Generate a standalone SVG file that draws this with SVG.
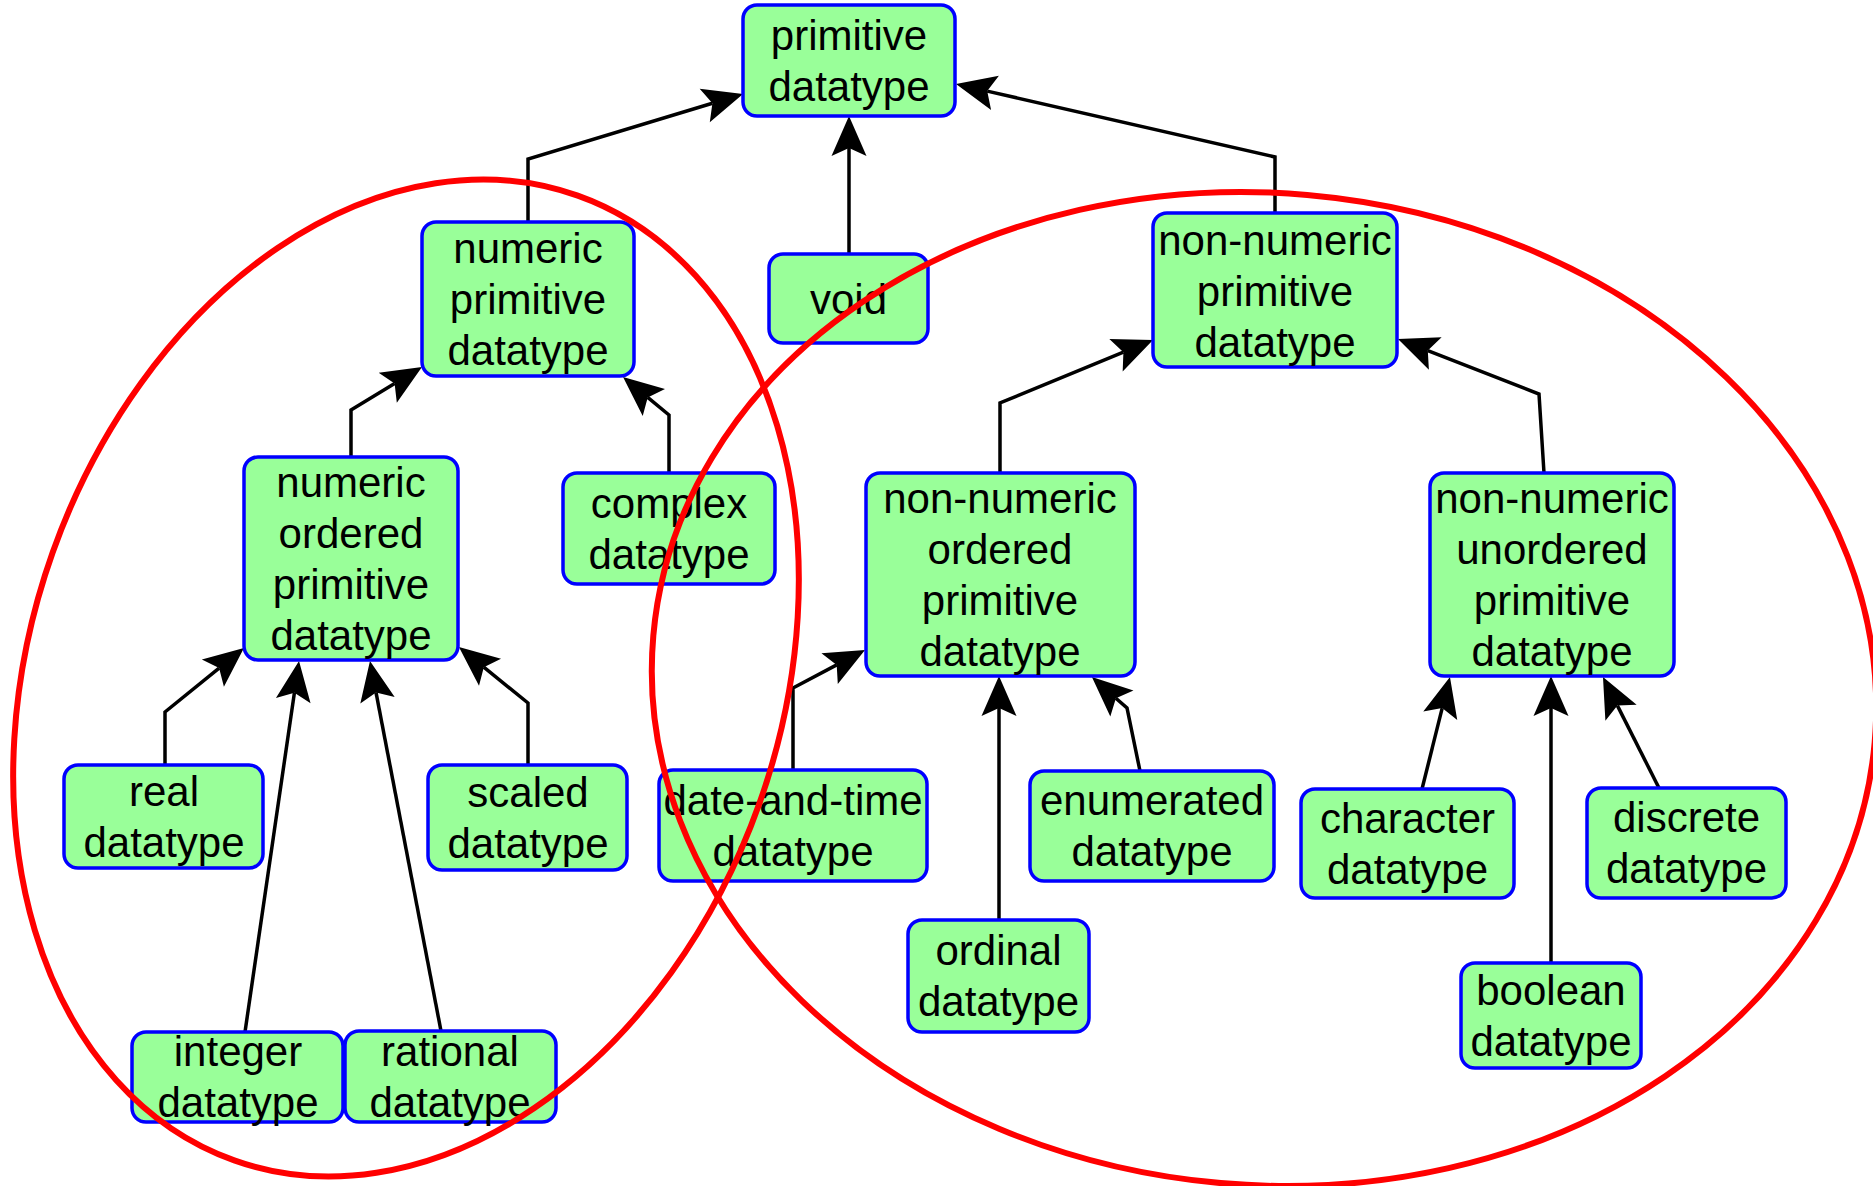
<svg xmlns="http://www.w3.org/2000/svg" width="1873" height="1186" viewBox="0 0 1873 1186">
  <style>
    .box { fill: #99ff99; stroke: #0000ff; stroke-width: 3.5; }
    .lbl { font-family: "Liberation Sans", Arial, sans-serif; font-size: 42px; fill: #000; text-anchor: middle; }
    .edge { fill: none; stroke: #000; stroke-width: 3.5; marker-end: url(#arrow); }
    .ring { fill: none; stroke: #ff0000; stroke-width: 6; }
  </style>
  <defs>
    <!-- notched arrowhead; reference point is the notch, tip lies 32px ahead -->
    <marker id="arrow" markerUnits="userSpaceOnUse" viewBox="-10 -20 44 40" refX="0" refY="0" markerWidth="44" markerHeight="40" orient="auto" overflow="visible">
      <path d="M32,0 L-8,-17.5 L0,0 L-8,17.5 Z" fill="#000"/>
    </marker>
  </defs>
  <rect width="1873" height="1186" fill="#ffffff"/>

  <g id="connectors">
    <path class="edge" d="M528,222 V159 L712.4,103.3"/>
    <path class="edge" d="M849,254 V148"/>
    <path class="edge" d="M1275,213 V157 L987.2,91.1"/>
    <path class="edge" d="M351,457 V410 L394.6,383.6"/>
    <path class="edge" d="M669,473 V415 L647.7,397.4"/>
    <path class="edge" d="M165,765 V712 L219.1,668.1"/>
    <path class="edge" d="M245,1032 L294.4,692.7"/>
    <path class="edge" d="M441,1031 L376,692.4"/>
    <path class="edge" d="M528,765 V703 L483.8,667.2"/>
    <path class="edge" d="M1000,473 V403 L1123.4,352.2"/>
    <path class="edge" d="M1544,473 L1539,394 L1427.8,350.6"/>
    <path class="edge" d="M793,770 V688 L836.7,664.9"/>
    <path class="edge" d="M999,920 V708"/>
    <path class="edge" d="M1140,771 L1127,708 L1115.9,698.2"/>
    <path class="edge" d="M1422,789 L1442.2,708.1"/>
    <path class="edge" d="M1551,963 V708"/>
    <path class="edge" d="M1659,788 L1617.4,705.6"/>
  </g>

  <g id="primitive">
    <rect class="box" x="743" y="5" width="212" height="111" rx="14"/>
    <text class="lbl" x="849" y="50">primitive</text>
    <text class="lbl" x="849" y="101">datatype</text>
  </g>
  <g id="void">
    <rect class="box" x="769" y="254" width="159" height="89" rx="14"/>
    <text class="lbl" x="848.5" y="313.5">void</text>
  </g>
  <g id="numeric-primitive">
    <rect class="box" x="422" y="222" width="212" height="154" rx="14"/>
    <text class="lbl" x="528" y="263">numeric</text>
    <text class="lbl" x="528" y="314">primitive</text>
    <text class="lbl" x="528" y="365">datatype</text>
  </g>
  <g id="complex">
    <rect class="box" x="563" y="473" width="212" height="111" rx="14"/>
    <text class="lbl" x="669" y="518">complex</text>
    <text class="lbl" x="669" y="569">datatype</text>
  </g>
  <g id="numeric-ordered">
    <rect class="box" x="244" y="457" width="214" height="203" rx="14"/>
    <text class="lbl" x="351" y="497">numeric</text>
    <text class="lbl" x="351" y="548">ordered</text>
    <text class="lbl" x="351" y="599">primitive</text>
    <text class="lbl" x="351" y="650">datatype</text>
  </g>
  <g id="real">
    <rect class="box" x="64" y="765" width="199" height="103" rx="14"/>
    <text class="lbl" x="164" y="806">real</text>
    <text class="lbl" x="164" y="857">datatype</text>
  </g>
  <g id="scaled">
    <rect class="box" x="428" y="765" width="199" height="105" rx="14"/>
    <text class="lbl" x="528" y="807">scaled</text>
    <text class="lbl" x="528" y="858">datatype</text>
  </g>
  <g id="integer">
    <rect class="box" x="132" y="1032" width="211" height="90" rx="14"/>
    <text class="lbl" x="238" y="1066">integer</text>
    <text class="lbl" x="238" y="1117">datatype</text>
  </g>
  <g id="rational">
    <rect class="box" x="345" y="1031" width="211" height="91" rx="14"/>
    <text class="lbl" x="450" y="1066">rational</text>
    <text class="lbl" x="450" y="1117">datatype</text>
  </g>
  <g id="non-numeric-primitive">
    <rect class="box" x="1153" y="213" width="244" height="154" rx="14"/>
    <text class="lbl" x="1275" y="255">non-numeric</text>
    <text class="lbl" x="1275" y="306">primitive</text>
    <text class="lbl" x="1275" y="357">datatype</text>
  </g>
  <g id="non-numeric-ordered">
    <rect class="box" x="866" y="473" width="269" height="203" rx="14"/>
    <text class="lbl" x="1000" y="513">non-numeric</text>
    <text class="lbl" x="1000" y="564">ordered</text>
    <text class="lbl" x="1000" y="615">primitive</text>
    <text class="lbl" x="1000" y="666">datatype</text>
  </g>
  <g id="non-numeric-unordered">
    <rect class="box" x="1430" y="473" width="244" height="203" rx="14"/>
    <text class="lbl" x="1552" y="513">non-numeric</text>
    <text class="lbl" x="1552" y="564">unordered</text>
    <text class="lbl" x="1552" y="615">primitive</text>
    <text class="lbl" x="1552" y="666">datatype</text>
  </g>
  <g id="date-and-time">
    <rect class="box" x="659" y="770" width="268" height="111" rx="14"/>
    <text class="lbl" x="793" y="815">date-and-time</text>
    <text class="lbl" x="793" y="866">datatype</text>
  </g>
  <g id="enumerated">
    <rect class="box" x="1030" y="771" width="244" height="110" rx="14"/>
    <text class="lbl" x="1152" y="815">enumerated</text>
    <text class="lbl" x="1152" y="866">datatype</text>
  </g>
  <g id="ordinal">
    <rect class="box" x="908" y="920" width="181" height="112" rx="14"/>
    <text class="lbl" x="998.5" y="965">ordinal</text>
    <text class="lbl" x="998.5" y="1016">datatype</text>
  </g>
  <g id="character">
    <rect class="box" x="1301" y="789" width="213" height="109" rx="14"/>
    <text class="lbl" x="1407.5" y="833">character</text>
    <text class="lbl" x="1407.5" y="884">datatype</text>
  </g>
  <g id="discrete">
    <rect class="box" x="1587" y="788" width="199" height="110" rx="14"/>
    <text class="lbl" x="1686.5" y="832">discrete</text>
    <text class="lbl" x="1686.5" y="883">datatype</text>
  </g>
  <g id="boolean">
    <rect class="box" x="1461" y="963" width="180" height="105" rx="14"/>
    <text class="lbl" x="1551" y="1005">boolean</text>
    <text class="lbl" x="1551" y="1056">datatype</text>
  </g>

  <g id="groupings">
    <ellipse class="ring" cx="406" cy="678" rx="375" ry="512" transform="rotate(19.6 406 678)"/>
    <ellipse class="ring" cx="1264" cy="689" rx="613" ry="496" transform="rotate(5 1264 689)"/>
  </g>
</svg>
